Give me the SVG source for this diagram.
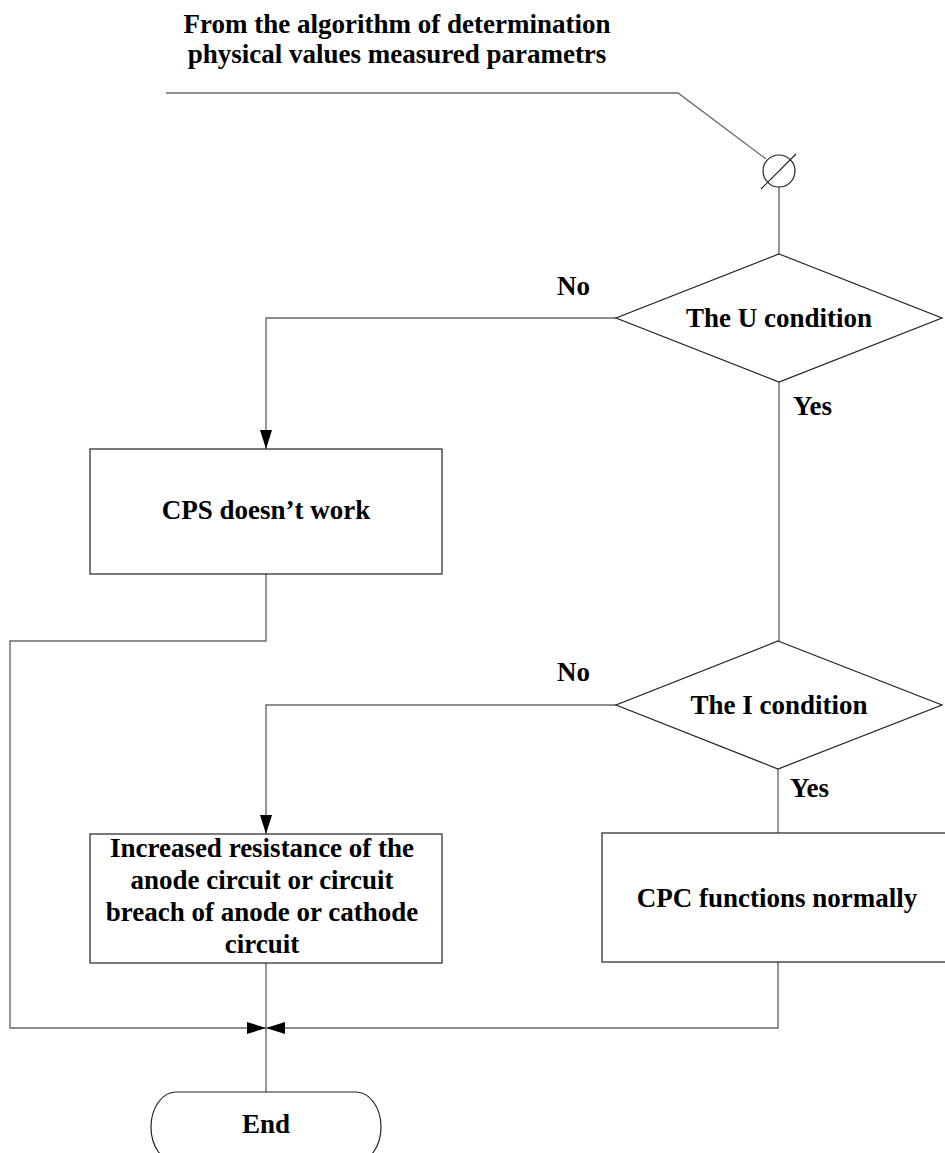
<svg xmlns="http://www.w3.org/2000/svg" width="945" height="1153" viewBox="0 0 945 1153">
<style>
.t{font-family:"Liberation Serif","Times New Roman",serif;font-weight:bold;font-size:27px;fill:#000}
.c{text-anchor:middle}
.s{fill:#fff;stroke:#222;stroke-width:1.2}
.k{fill:none;stroke:#6a6a6a;stroke-width:1.4}
</style>
<defs>
<marker id="ah" markerUnits="userSpaceOnUse" markerWidth="19" markerHeight="12" refX="19" refY="6" orient="auto">
<path d="M0,0 L19,6 L0,12 z" fill="#000"/>
</marker>
</defs>
<rect width="945" height="1153" fill="#fff"/>
<g id="title">
<text class="t c" x="397" y="33">From the algorithm of determination</text>
<text class="t c" x="397" y="63">physical values measured parametrs</text>
</g>
<g id="connectors">
<polyline class="k" points="166,93 678,93 766,159"/>
<line class="k" x1="779" y1="187" x2="779" y2="254"/>
<polyline class="k" points="616,318 266,318 266,449" marker-end="url(#ah)"/>
<line class="k" x1="779" y1="382" x2="779" y2="641"/>
<polyline class="k" points="266,574 266,641 10,641 10,1028 266,1028" marker-end="url(#ah)"/>
<polyline class="k" points="616,705 266,705 266,834" marker-end="url(#ah)"/>
<line class="k" x1="778" y1="769" x2="778" y2="833"/>
<polyline class="k" points="778,962 778,1028 266,1028" marker-end="url(#ah)"/>
<line class="k" x1="266" y1="963" x2="266" y2="1092"/>
<text class="t" x="557" y="295">No</text>
<text class="t" x="793" y="415">Yes</text>
<text class="t" x="557" y="681">No</text>
<text class="t" x="790" y="797">Yes</text>
</g>
<g id="connector-point">
<circle cx="779" cy="171" r="16" fill="#fff" stroke="#222" stroke-width="1.2"/>
<line x1="761" y1="189" x2="796" y2="154" stroke="#222" stroke-width="1.2"/>
</g>
<g id="u-condition">
<polygon class="s" points="779,254 942,318 779,382 616,318"/>
<text class="t c" x="779" y="327">The U condition</text>
</g>
<g id="cps-doesnt-work">
<rect class="s" x="90" y="449" width="352" height="125"/>
<text class="t c" x="266" y="519">CPS doesn’t work</text>
</g>
<g id="i-condition">
<polygon class="s" points="778,641 942,705 778,769 616,705"/>
<text class="t c" x="779" y="714">The I condition</text>
</g>
<g id="increased-resistance">
<rect class="s" x="90" y="834" width="352" height="129"/>
<text class="t c" x="262" y="857">Increased resistance of the</text>
<text class="t c" x="262" y="889">anode circuit or circuit</text>
<text class="t c" x="262" y="921">breach of anode or cathode</text>
<text class="t c" x="262" y="953">circuit</text>
</g>
<g id="cpc-functions-normally">
<rect class="s" x="602" y="833" width="352" height="129"/>
<text class="t c" x="777" y="907">CPC functions normally</text>
</g>
<g id="end">
<path class="s" d="M176,1092 H356 A25,35 0 0 1 356,1162 H176 A25,35 0 0 1 176,1092 Z"/>
<text class="t c" x="266" y="1133">End</text>
</g>
</svg>
